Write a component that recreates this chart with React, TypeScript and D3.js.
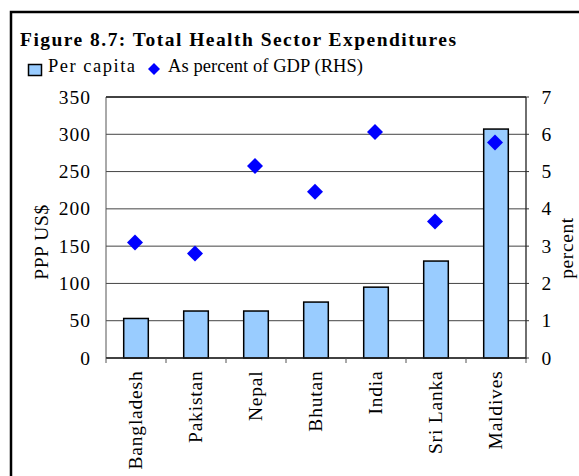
import React from "react";
import * as d3 from "d3";

const categories = ["Bangladesh", "Pakistan", "Nepal", "Bhutan", "India", "Sri Lanka", "Maldives"];
const perCapita = [53, 63, 63, 75, 95, 130, 307];
const pctGDP = [3.1, 2.8, 5.15, 4.46, 6.06, 3.66, 5.78];
const leftTicks = [0, 50, 100, 150, 200, 250, 300, 350];
const rightTicks = [0, 1, 2, 3, 4, 5, 6, 7];

const W = 579, H = 476;
const m = { left: 106, right: 526, top: 97, bottom: 358 };
const font = "'Liberation Serif', 'Times New Roman', serif";

export default function App() {
  const x = d3.scaleBand<string>().domain(categories).range([m.left, m.right]).paddingInner(0.59).paddingOuter(0.295);
  const band = d3.scaleBand<string>().domain(categories).range([m.left, m.right]);
  const yL = d3.scaleLinear().domain([0, 350]).range([m.bottom, m.top]);
  const yR = d3.scaleLinear().domain([0, 7]).range([m.bottom, m.top]);
  const d = 8;
  const fs = 19.5;
  return (
    <svg width={W} height={H} style={{ position: "absolute", left: 0, top: 0, display: "block" }} fontFamily={font}>
      <rect x={0} y={0} width={W} height={H} fill="#fff" />
      <rect x={11} y={12} width={620} height={520} fill="none" stroke="#000" strokeWidth={2.5} />
      <text x={20} y={45.5} fontSize={19.5} fontWeight="bold" textLength={436} lengthAdjust="spacing">Figure 8.7: Total Health Sector Expenditures</text>
      <rect x={28.5} y={64.5} width={13} height={11} fill="#99CCFF" stroke="#000" strokeWidth={1.5} />
      <text x={48} y={72} fontSize={18.5} textLength={87} lengthAdjust="spacing">Per capita</text>
      <path d={`M154,63 L160,69 L154,75 L148,69 Z`} fill="#0000FF" />
      <text x={168} y={72} fontSize={18.5} textLength={195} lengthAdjust="spacing">As percent of GDP (RHS)</text>

      {leftTicks.map((t) => (
        <line key={"g" + t} x1={m.left} x2={m.right} y1={yL(t)} y2={yL(t)} stroke="#444" strokeWidth={1} />
      ))}
      <line x1={m.left} x2={m.left} y1={m.top} y2={m.bottom} stroke="#555" strokeWidth={1} />
      <line x1={m.right} x2={m.right} y1={m.top} y2={m.bottom + 1} stroke="#222" strokeWidth={1.3} />
      <line x1={m.left} x2={m.right} y1={m.top} y2={m.top} stroke="#222" strokeWidth={1.3} />

      {categories.map((c, i) => (
        <rect key={c} x={x(c)} y={yL(perCapita[i])} width={x.bandwidth()} height={m.bottom - yL(perCapita[i])}
          fill="#99CCFF" stroke="#000" strokeWidth={1.5} />
      ))}
      <line x1={m.left} x2={m.right} y1={m.bottom} y2={m.bottom} stroke="#222" strokeWidth={1.5} />
      {categories.map((c) => (
        <line key={"t" + c} x1={(band(c) as number)} x2={(band(c) as number)} y1={m.bottom} y2={m.bottom + 5} stroke="#555" strokeWidth={1} />
      ))}
      <line x1={m.right} x2={m.right} y1={m.bottom} y2={m.bottom + 5} stroke="#555" strokeWidth={1} />
      {rightTicks.map((t) => (
        <line key={"rt" + t} x1={m.right} x2={m.right + 3} y1={yR(t)} y2={yR(t)} stroke="#333" strokeWidth={1} />
      ))}

      {categories.map((c, i) => {
        const cx = (band(c) as number) + band.bandwidth() / 2 - 1;
        const cy = yR(pctGDP[i]);
        return <path key={"d" + c} d={`M${cx},${cy - d} L${cx + d},${cy} L${cx},${cy + d} L${cx - d},${cy} Z`} fill="#0000FF" />;
      })}

      {leftTicks.map((t) => (
        <text key={"l" + t} x={91} y={yL(t) + 6.5} fontSize={fs} letterSpacing={1} textAnchor="end">{t}</text>
      ))}
      {rightTicks.map((t) => (
        <text key={"r" + t} x={541.5} y={yR(t) + 6.5} fontSize={fs}>{t}</text>
      ))}
      <text transform={`translate(48,242) rotate(-90)`} fontSize={fs} letterSpacing={0.6} textAnchor="middle">PPP US$</text>
      <text transform={`translate(573,248) rotate(-90)`} fontSize={fs} letterSpacing={0.6} textAnchor="middle">percent</text>
      {categories.map((c) => {
        const cx = (band(c) as number) + band.bandwidth() / 2;
        return (
          <text key={"x" + c} transform={`translate(${cx + 5.5},370.5) rotate(-90)`} fontSize={fs} letterSpacing={0.8} textAnchor="end">{c}</text>
        );
      })}
    </svg>
  );
}
